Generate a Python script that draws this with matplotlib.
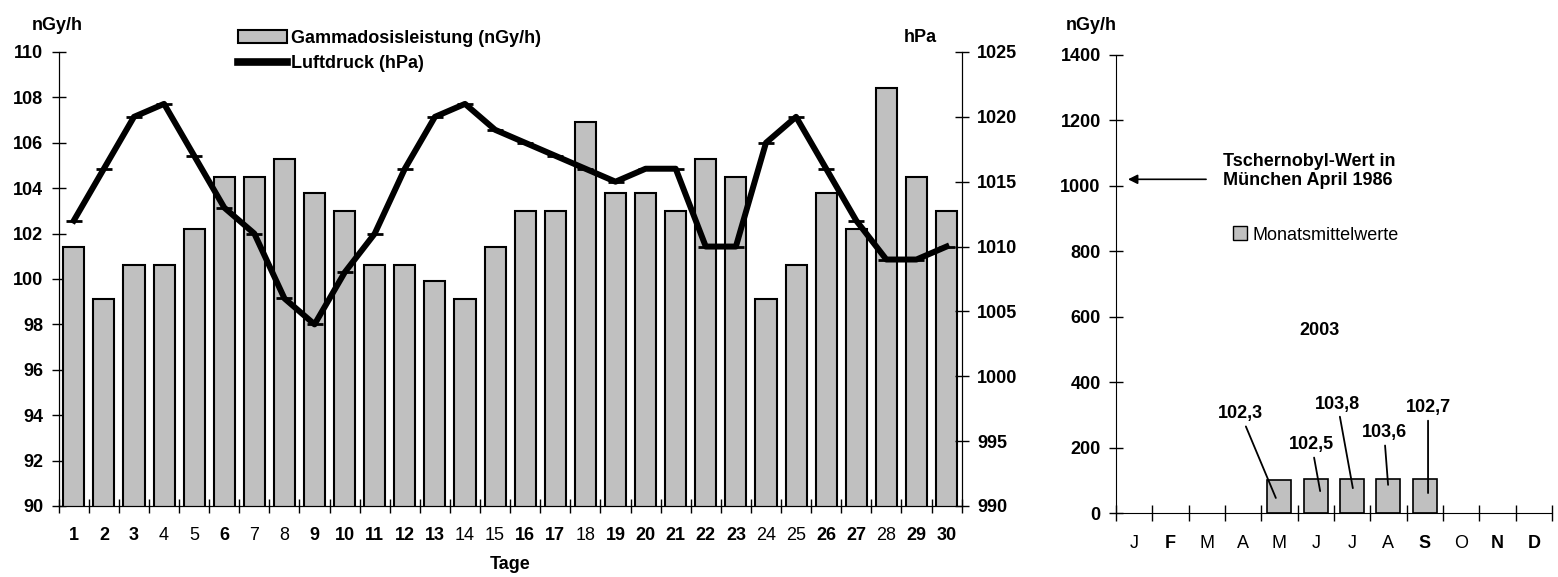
import numpy as np
import matplotlib
matplotlib.use("Agg")
import matplotlib.pyplot as plt
from matplotlib.patches import Patch
from matplotlib.lines import Line2D

plt.rcParams['font.family'] = ['Liberation Sans', 'DejaVu Sans']

# --- daily values (left chart) ---
days = list(range(1, 31))
gamma = [101.4, 99.1, 100.6, 100.6, 102.2, 104.5, 104.5, 105.3, 103.8, 103.0,
         100.6, 100.6, 99.9, 99.1, 101.4, 103.0, 103.0, 106.9, 103.8, 103.8,
         103.0, 105.3, 104.5, 99.1, 100.6, 103.8, 102.2, 108.4, 104.5, 103.0]
pressure = [1012, 1016, 1020, 1021, 1017, 1013, 1011, 1006, 1004, 1008,
            1011, 1016, 1020, 1021, 1019, 1018, 1017, 1016, 1015, 1016,
            1016, 1010, 1010, 1018, 1020, 1016, 1012, 1009, 1009, 1010]
bold_days = [1, 2, 3, 6, 9, 10, 11, 12, 13, 16, 17, 19, 20, 21, 22, 23, 26, 27, 29, 30]

# --- monthly means (right chart) ---
months = ['J', 'F', 'M', 'A', 'M', 'J', 'J', 'A', 'S', 'O', 'N', 'D']
bold_months = [1, 8, 10, 11]
month_idx = [4, 5, 6, 7, 8]
month_vals = [102.3, 102.5, 103.8, 103.6, 102.7]
month_labels = ['102,3', '102,5', '103,8', '103,6', '102,7']
label_pos = [(3.43, 303), (5.39, 208), (6.10, 333), (7.38, 245), (8.59, 321)]
leader_end = [(4.40, 46), (5.62, 67), (6.52, 76), (7.49, 86), (8.59, 61)]

BAR = '#c0c0c0'
FS = 13

fig = plt.figure(figsize=(15.58, 5.77), dpi=100)

# ---------------- left chart ----------------
ax = fig.add_axes([0.0377, 0.1231, 0.5795, 0.7868])
ax.bar(days, gamma, width=0.7, color=BAR, edgecolor='black', linewidth=1.5, zorder=2)
ax.set_xlim(0.5, 30.5)
ax.set_ylim(90, 110)
ax.set_yticks(np.arange(90, 111, 2))
ax.set_xticks(np.arange(0.5, 31, 1))
ax.set_xticklabels([])
ax.set_xticks(days, minor=True)
ax.set_xticklabels([str(d) for d in days], minor=True, fontsize=FS)
for lbl, d in zip(ax.get_xticklabels(minor=True), days):
    lbl.set_fontweight('bold' if d in bold_days else 'normal')
ax.tick_params(axis='x', which='minor', length=0, pad=15)
ax.tick_params(axis='x', which='major', direction='inout', length=10, width=1)
ax.tick_params(axis='y', direction='inout', length=10, width=1, labelsize=FS, pad=6)
for lbl in ax.get_yticklabels():
    lbl.set_fontweight('bold')
ax.spines['top'].set_visible(False)
ax.set_xlabel('Tage', fontsize=FS, fontweight='bold', labelpad=9)

ax2 = ax.twinx()
ax2.plot(days, pressure, color='black', linewidth=4.3, marker='_', markersize=12,
         markeredgewidth=2, zorder=3)
ax2.set_ylim(990, 1025)
ax2.set_yticks(np.arange(990, 1026, 5))
ax2.tick_params(axis='y', direction='inout', length=10, width=1, labelsize=FS, pad=6)
for lbl in ax2.get_yticklabels():
    lbl.set_fontweight('bold')
ax2.spines['top'].set_visible(False)

fig.text(32 / 1558, 1 - 25 / 577, 'nGy/h', fontsize=FS, fontweight='bold', va='center', ha='left')
fig.text(920 / 1558, 1 - 38 / 577, 'hPa', fontsize=FS, fontweight='bold', va='center', ha='center')

handles = [Patch(facecolor=BAR, edgecolor='black', linewidth=1.5),
           Line2D([0], [0], color='black', linewidth=5.5)]
fig.legend(handles, ['Gammadosisleistung (nGy/h)', 'Luftdruck (hPa)'],
           loc='upper left', bbox_to_anchor=(238 / 1558, 1 - 30 / 577),
           frameon=False, borderpad=0, borderaxespad=0, handlelength=2.7,
           handletextpad=0.25, labelspacing=0.45,
           prop={'size': FS, 'weight': 'bold'})

# ---------------- right chart ----------------
bx = fig.add_axes([0.7163, 0.1109, 0.2798, 0.7938])
bx.bar([i + 0.5 for i in month_idx], month_vals, width=0.66, color=BAR,
       edgecolor='black', linewidth=1.2, zorder=2)
bx.set_xlim(0, 12)
bx.set_ylim(0, 1400)
bx.set_yticks(np.arange(0, 1401, 200))
bx.set_xticks(np.arange(0, 13, 1))
bx.set_xticklabels([])
bx.set_xticks(np.arange(0.5, 12, 1), minor=True)
bx.set_xticklabels(months, minor=True, fontsize=FS)
for i, lbl in enumerate(bx.get_xticklabels(minor=True)):
    lbl.set_fontweight('bold' if i in bold_months else 'normal')
bx.tick_params(axis='x', which='minor', length=0, pad=16)
bx.tick_params(axis='x', which='major', direction='inout', length=12, width=1)
bx.tick_params(axis='y', direction='inout', length=10, width=1, labelsize=FS, pad=6)
for lbl in bx.get_yticklabels():
    lbl.set_fontweight('bold')
for s in ['top', 'right']:
    bx.spines[s].set_visible(False)

for lab, (tx, ty), (ex, ey) in zip(month_labels, label_pos, leader_end):
    bx.annotate(lab, xy=(ex, ey), xytext=(tx, ty), ha='center', va='center',
                fontsize=FS, fontweight='bold',
                arrowprops=dict(arrowstyle='-', color='black', lw=1.3,
                                shrinkA=1, shrinkB=0))

bx.annotate('', xy=(0.33, 1020), xytext=(2.48, 1020),
            arrowprops=dict(arrowstyle='-|>', color='black', lw=1.2,
                            mutation_scale=14, shrinkA=0, shrinkB=0))
bx.text(2.95, 1046, 'Tschernobyl-Wert in\nMünchen April 1986', fontsize=FS,
        fontweight='bold', ha='left', va='center', linespacing=1.2)
bx.text(5.59, 559, '2003', fontsize=FS, fontweight='bold', ha='center', va='center')
bx.legend([Patch(facecolor=BAR, edgecolor='black', linewidth=1)], ['Monatsmittelwerte'],
          loc='center left', bbox_to_anchor=((1233 - 1116) / 436, (513 - 235) / 458),
          frameon=False, borderpad=0, borderaxespad=0, handlelength=0.8,
          handleheight=0.8, handletextpad=0.3, prop={'size': FS})

fig.text(1091 / 1558, 1 - 25 / 577, 'nGy/h', fontsize=FS, fontweight='bold', va='center', ha='center')

fig.savefig('out.png', dpi=100)
